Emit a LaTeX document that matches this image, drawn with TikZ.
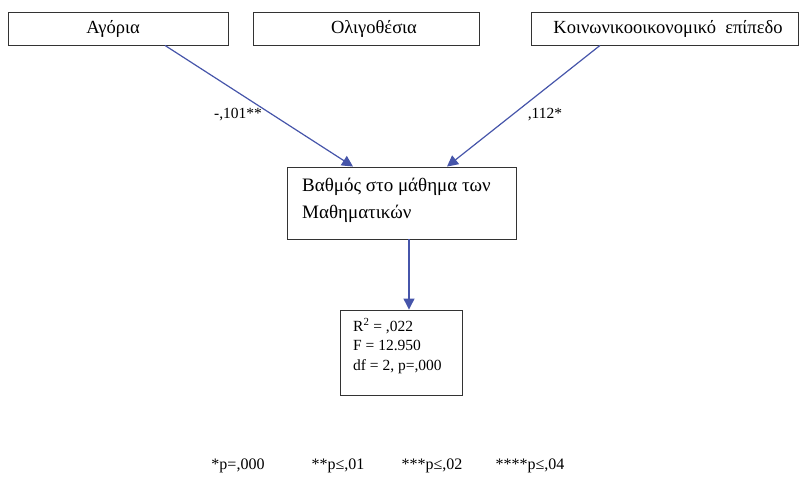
\documentclass[tikz,border=0pt]{standalone}
\usepackage{fontspec}
\setmainfont{Liberation Serif}
\usetikzlibrary{arrows.meta}
\definecolor{arrowblue}{HTML}{4655AA}
\definecolor{boxline}{HTML}{333333}
\tikzset{
  topbox/.style={draw=boxline, line width=0.9pt, inner sep=0pt, minimum height=33pt},
  toptext/.style={inner sep=0pt, font=\fontsize{18.5}{22}\selectfont},
  conn/.style={draw=arrowblue, line width=1.2pt, -{Triangle[length=11pt,width=11pt]}},
  lbl/.style={font=\fontsize{15.5}{18}\selectfont, inner sep=0pt},
  foot/.style={font=\fontsize{16}{18}\selectfont, inner sep=0pt}
}
\begin{document}
\begin{tikzpicture}[x=1pt,y=-1pt]
\useasboundingbox (0,0) rectangle (801,478);
% top boxes
\node[topbox, minimum width=220pt] (agoria) at (118,28.5) {};
\node[toptext] (agoriat) at (113,28.5) {Αγόρια};
\node[topbox, minimum width=226pt] (oligo) at (366,28.5) {};
\node[toptext] (oligot) at (374,28.5) {Ολιγοθέσια};
\node[topbox, minimum width=267pt] (koin) at (664.5,28.5) {};
\node[toptext] (koint) at (668,28.5) {Κοινωνικοοικονομικό\ \ επίπεδο};
% central box
\node[draw=boxline, line width=0.9pt, inner sep=0pt, minimum width=229pt, minimum height=72pt] (vath) at (401.5,203) {};
\node[anchor=west, align=left, inner sep=0pt, font=\fontsize{19}{27}\selectfont] (vtext) at (302,200.5) {Βαθμός στο μάθημα των\\Μαθηματικών};
% result box
\node[draw=boxline, line width=0.9pt, inner sep=0pt, minimum width=122pt, minimum height=85pt] (res) at (401,352.5) {};
\node[anchor=west, align=left, inner sep=0pt, font=\fontsize{15.5}{19.5}\selectfont] (rtext) at (353,346) {R\textsuperscript{2} = ,022\\F = 12.950\\df = 2, p=,000};
% connectors
\coordinate (s1) at ([xshift=47pt]agoria.south);
\coordinate (s2) at ([xshift=-64.5pt]koin.south);
\coordinate (t1) at ([xshift=-48.5pt]vath.north);
\coordinate (t2) at ([xshift=45.5pt]vath.north);
\coordinate (s3) at ([xshift=7.5pt]vath.south);
\draw[conn] (s1) -- (t1);
\draw[conn] (s2) -- (t2);
\draw[conn] (s3) -- (s3 |- res.north);
% labels
\node[lbl] (l1) at (238,115) {-,101**};
\node[lbl] (l2) at (545,115) {,112*};
% footnote
\node[foot] (f1) at (238,466) {*p=,000};
\node[foot] (f2) at (338,466) {**p≤,01};
\node[foot] (f3) at (432,466) {***p≤,02};
\node[foot] (f4) at (530,466) {****p≤,04};
\end{tikzpicture}
\end{document}
